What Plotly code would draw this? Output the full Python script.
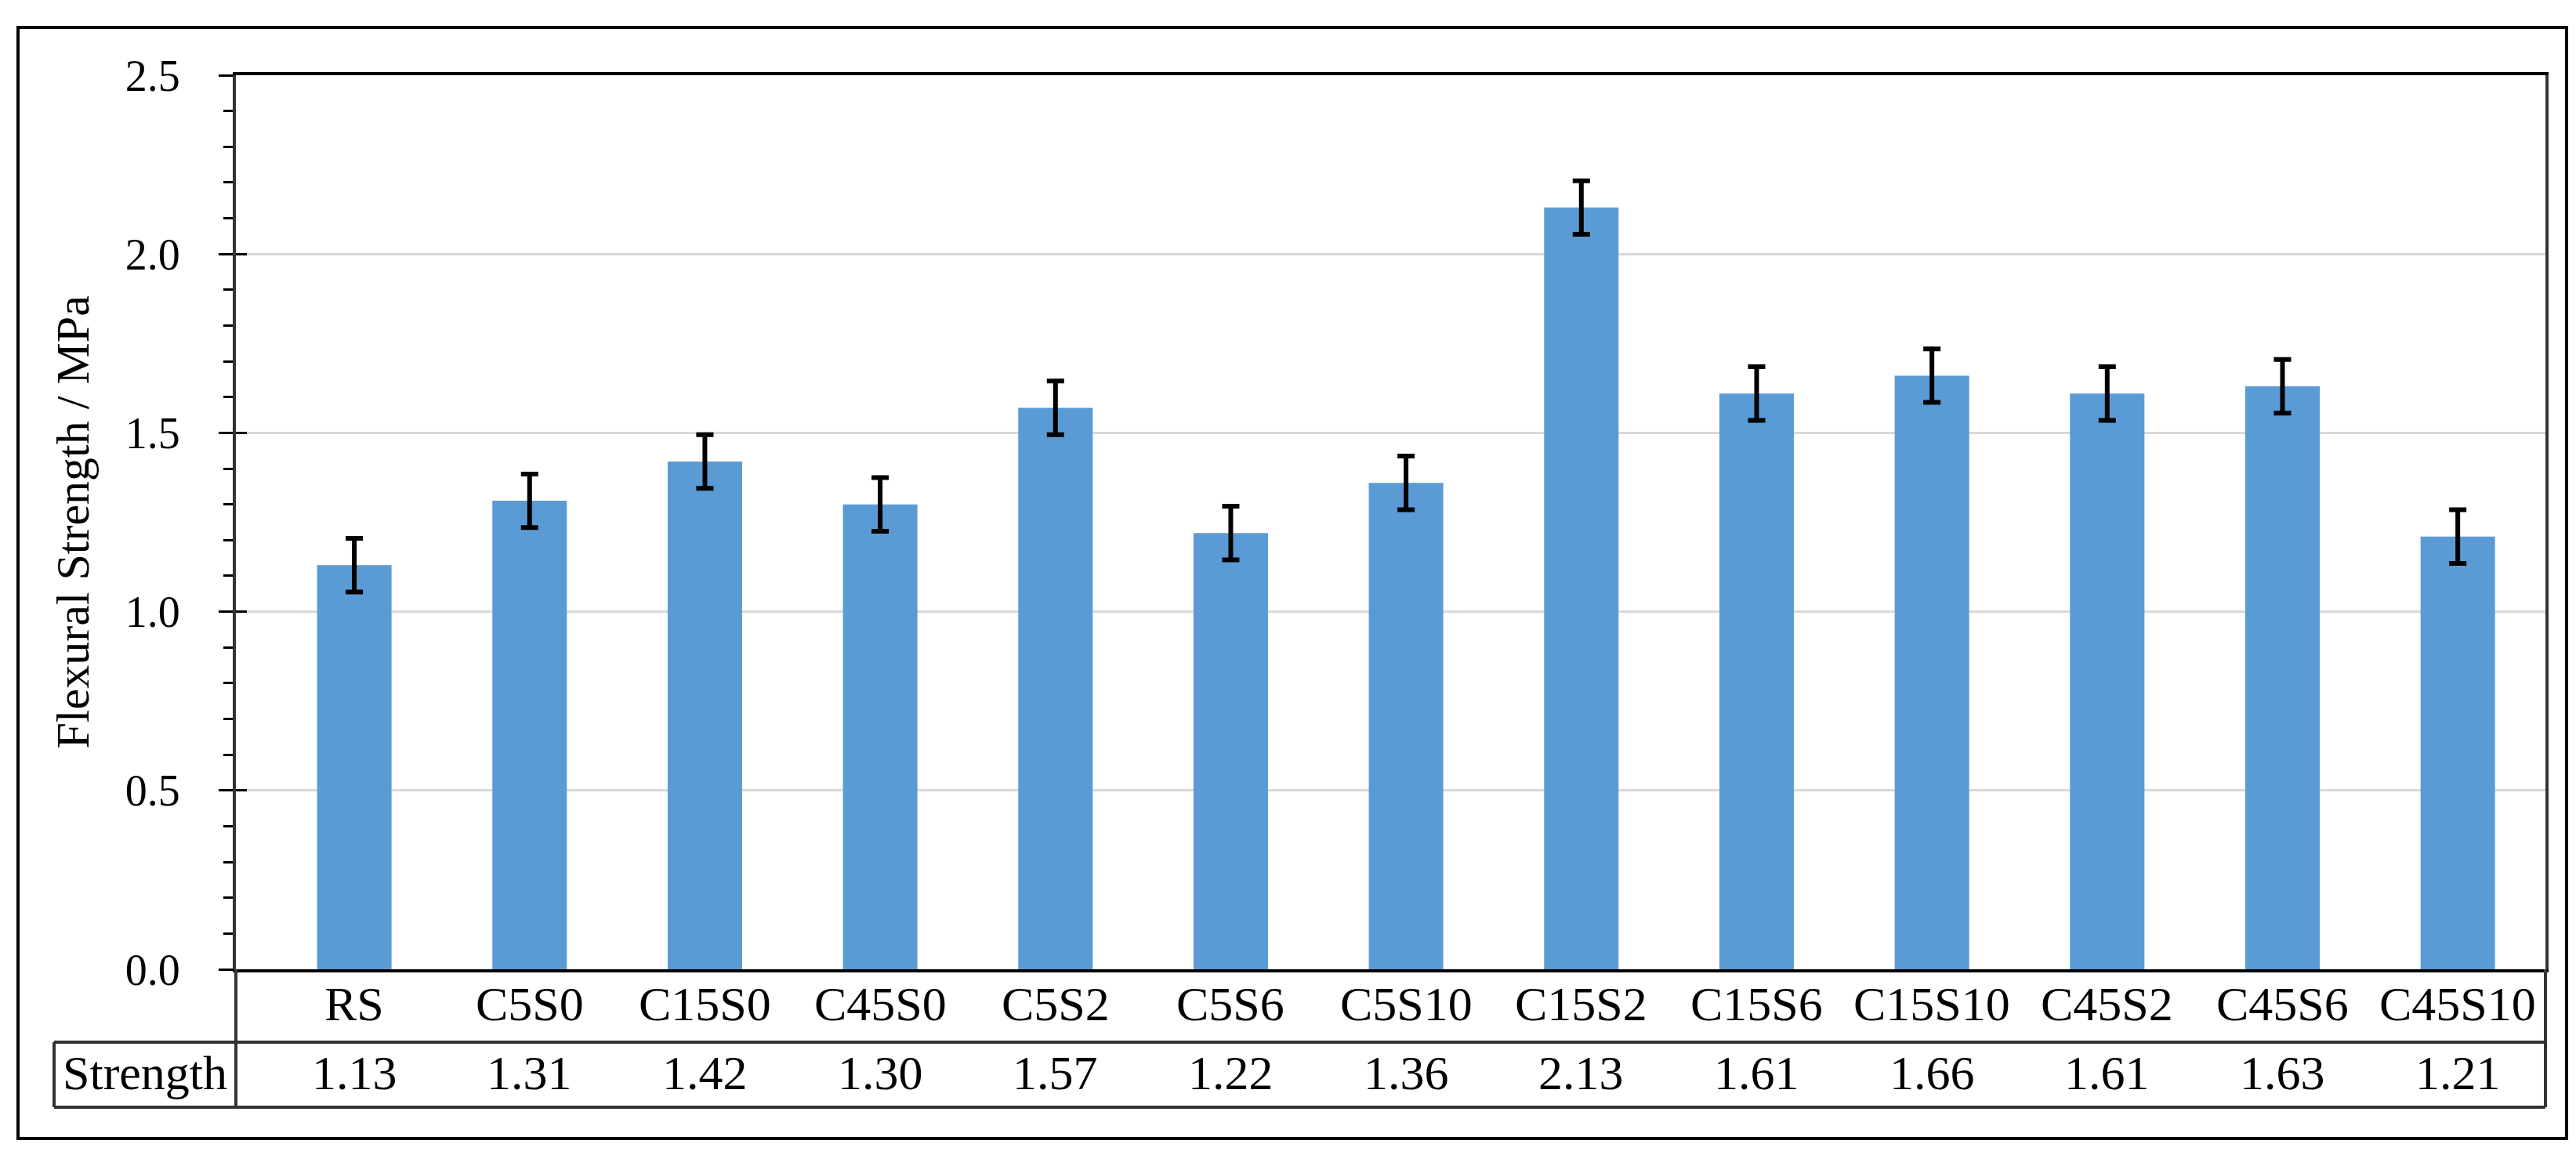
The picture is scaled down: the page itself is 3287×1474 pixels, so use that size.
import plotly.graph_objects as go

categories = ["RS", "C5S0", "C15S0", "C45S0", "C5S2", "C5S6", "C5S10",
              "C15S2", "C15S6", "C15S10", "C45S2", "C45S6", "C45S10"]
strength = [1.13, 1.31, 1.42, 1.30, 1.57, 1.22, 1.36, 2.13, 1.61, 1.66, 1.61, 1.63, 1.21]
errors = [0.075, 0.075, 0.075, 0.075, 0.075, 0.075, 0.075, 0.075, 0.075, 0.075, 0.075, 0.075, 0.075]
y_ticks = [0.0, 0.5, 1.0, 1.5, 2.0, 2.5]
row_header = "Strength"
y_title = "Flexural Strength / MPa"

W, H = 3287, 1474
L, R, T, B = 293, 3240, 88, 1229
pw, ph = R - L, B - T

def px(x):
    return (x - L) / pw

def py(y):
    return (B - y) / ph

FONT = "Liberation Serif"

fig = go.Figure()
fig.add_trace(go.Bar(
    x=categories, y=strength,
    marker=dict(color="#5B9BD5", line=dict(width=0)),
    error_y=dict(type="data", array=errors, color="black", thickness=6, width=11),
    showlegend=False, hoverinfo="skip",
))
fig.add_trace(go.Scatter(
    x=[categories[0]], y=[0], yaxis="y2", mode="markers",
    marker=dict(opacity=0), showlegend=False, hoverinfo="skip",
))

fig.update_layout(
    width=W, height=H,
    margin=dict(l=L, r=W - R, t=T, b=H - B, pad=0),
    paper_bgcolor="white", plot_bgcolor="white",
    bargap=0.575,
    font=dict(family=FONT, color="black"),
    xaxis=dict(
        type="category", showticklabels=False, ticks="",
        showline=True, linecolor="black", linewidth=4, mirror=True,
        showgrid=False, zeroline=False,
    ),
    yaxis=dict(
        range=[0, 2.5], tickvals=y_ticks, tickformat=".1f",
        ticks="outside", ticklen=18, tickwidth=3, tickcolor="black",
        ticklabelstandoff=38,
        tickfont=dict(family=FONT, size=56, color="black"),
        showline=True, linecolor="#333333", linewidth=4, mirror=True,
        showgrid=True, gridcolor="#d9d9d9", gridwidth=3,
        zeroline=False,
        minor=dict(ticks="outside", dtick=0.1, ticklen=12, tickwidth=3,
                   tickcolor="black", showgrid=False),
    ),
    yaxis2=dict(
        overlaying="y", side="left", range=[0, 2.5], tickvals=y_ticks,
        ticks="inside", ticklen=14, tickwidth=3, tickcolor="black",
        showticklabels=False, showgrid=False, showline=False, zeroline=False,
    ),
)

ann = []
ann.append(dict(text=y_title, xref="paper", yref="paper", x=px(84), y=0.5,
                textangle=-90, showarrow=False, xanchor="center", yanchor="middle",
                font=dict(family=FONT, size=60, color="black")))
for c, v in zip(categories, strength):
    ann.append(dict(text=c, xref="x", yref="paper", x=c, y=py(1273),
                    showarrow=False, xanchor="center", yanchor="middle",
                    font=dict(family=FONT, size=62, color="black")))
    ann.append(dict(text=f"{v:.2f}", xref="x", yref="paper", x=c, y=py(1361),
                    showarrow=False, xanchor="center", yanchor="middle",
                    font=dict(family=FONT, size=62, color="black")))
ann.append(dict(text=row_header, xref="paper", yref="paper", x=px(177), y=py(1361),
                showarrow=False, xanchor="center", yanchor="middle",
                font=dict(family=FONT, size=62, color="black")))
fig.update_layout(annotations=ann)

line_c = "#333333"
shapes = [
    dict(type="line", xref="paper", yref="paper", x0=px(61), x1=1, y0=py(1322), y1=py(1322),
         line=dict(color=line_c, width=4)),
    dict(type="line", xref="paper", yref="paper", x0=px(61), x1=1, y0=py(1405), y1=py(1405),
         line=dict(color=line_c, width=4)),
    dict(type="line", xref="paper", yref="paper", x0=px(61), x1=px(61), y0=py(1322), y1=py(1405),
         line=dict(color=line_c, width=4)),
    dict(type="line", xref="paper", yref="paper", x0=0, x1=0, y0=0, y1=py(1405),
         line=dict(color=line_c, width=4)),
    dict(type="line", xref="paper", yref="paper", x0=1, x1=1, y0=0, y1=py(1405),
         line=dict(color=line_c, width=4)),
    dict(type="rect", xref="paper", yref="paper", x0=px(15), x1=px(3267), y0=py(1445), y1=py(27),
         line=dict(color="black", width=4), fillcolor="rgba(0,0,0,0)"),
]
fig.update_layout(shapes=shapes)

fig.write_html("out.html")
